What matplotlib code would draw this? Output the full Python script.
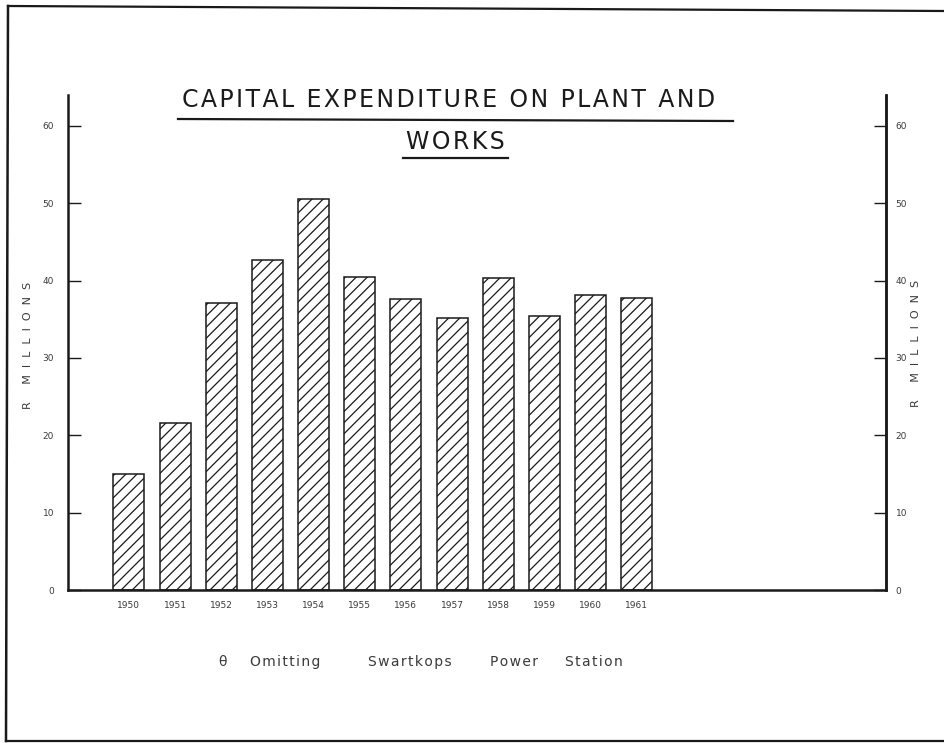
import numpy as np
import matplotlib.pyplot as plt
from matplotlib.lines import Line2D

# Capital expenditure on plant and works, R millions
years = ["1950", "1951", "1952", "1953", "1954", "1955",
         "1956", "1957", "1958", "1959", "1960", "1961"]
spend = [15.0, 21.6, 37.1, 42.7, 50.6, 40.5, 37.6, 35.2, 40.4, 35.4, 38.2, 37.8]
y_ticks = [0, 10, 20, 30, 40, 50, 60]

plt.rcParams["hatch.linewidth"] = 0.9
ink = "#1a1a1a"
grey = "#3a3a3a"


def spaced(s, gap="\u200a"):
    # loose letter spacing, like the stencil lettering on the original
    return gap.join(s)


fig = plt.figure(figsize=(9.44, 7.43), dpi=100)
W, H = 944, 743
ax = fig.add_axes([68 / W, 1 - 590 / H, (886 - 68) / W, (590 - 95) / H])

x = np.arange(len(years))
ax.bar(x, spend, width=0.67, facecolor="white", edgecolor=ink,
       linewidth=1.1, hatch="///")

ax.set_xlim(-1.32, 16.4)
ax.set_ylim(0, 64)

ax.spines["top"].set_visible(False)
for s in ["left", "right", "bottom"]:
    ax.spines[s].set_linewidth(1.8)
    ax.spines[s].set_color(ink)

ax.set_xticks(x)
ax.set_xticklabels(years, fontsize=6.5, color=grey)
ax.tick_params(axis="x", length=0, pad=8)

ax.set_yticks(y_ticks)
ax.set_yticklabels([str(v) for v in y_ticks], fontsize=6.5, color=grey)
ax.tick_params(axis="y", direction="in", length=9, width=1.0, color=ink, pad=10)

ax2 = ax.twinx()
ax2.set_ylim(0, 64)
ax2.set_yticks(y_ticks)
ax2.set_yticklabels([str(v) for v in y_ticks], fontsize=6.5, color=grey)
ax2.tick_params(axis="y", direction="in", length=9, width=1.0, color=ink, pad=7)
for s in ["top", "left", "bottom"]:
    ax2.spines[s].set_visible(False)
ax2.spines["right"].set_linewidth(1.8)
ax2.spines["right"].set_color(ink)

# axis captions, spaced out like the hand lettering
caption = "R     M  I  L  L  I  O  N  S"
fig.text(28 / W, 1 - 345 / H, caption, rotation=90,
         ha="center", va="center", fontsize=8, color=grey)
fig.text(916 / W, 1 - 343 / H, caption, rotation=90,
         ha="center", va="center", fontsize=8, color=grey)

# title with underlines
fig.text(449 / W, 1 - 100 / H, spaced("CAPITAL EXPENDITURE ON PLANT AND"),
         ha="center", va="center", fontsize=17, color=ink)
fig.text(455 / W, 1 - 142 / H, spaced("WORKS"), ha="center", va="center",
         fontsize=17, color=ink)
fig.add_artist(Line2D([178 / W, 733 / W], [1 - 119 / H, 1 - 121 / H],
                      color=ink, lw=1.6, transform=fig.transFigure))
fig.add_artist(Line2D([403 / W, 508 / W], [1 - 158 / H, 1 - 158 / H],
                      color=ink, lw=1.6, transform=fig.transFigure))

# footnote
note_y = 1 - 662 / H
for xp, word in [(218, "\u03b8"), (250, "Omitting"), (368, "Swartkops"),
                 (490, "Power"), (565, "Station")]:
    fig.text(xp / W, note_y, spaced(word), ha="left", va="center",
             fontsize=10, color=grey)

# outer sheet border (left, top, bottom)
fig.add_artist(Line2D([8 / W, 944 / W], [1 - 6 / H, 1 - 11 / H],
                      color=ink, lw=1.6, transform=fig.transFigure))
fig.add_artist(Line2D([8 / W, 6 / W], [1 - 6 / H, 1 - 741 / H],
                      color=ink, lw=1.8, transform=fig.transFigure))
fig.add_artist(Line2D([6 / W, 944 / W], [1 - 741 / H, 1 - 741 / H],
                      color=ink, lw=1.6, transform=fig.transFigure))

fig.savefig("out.png", dpi=100)
